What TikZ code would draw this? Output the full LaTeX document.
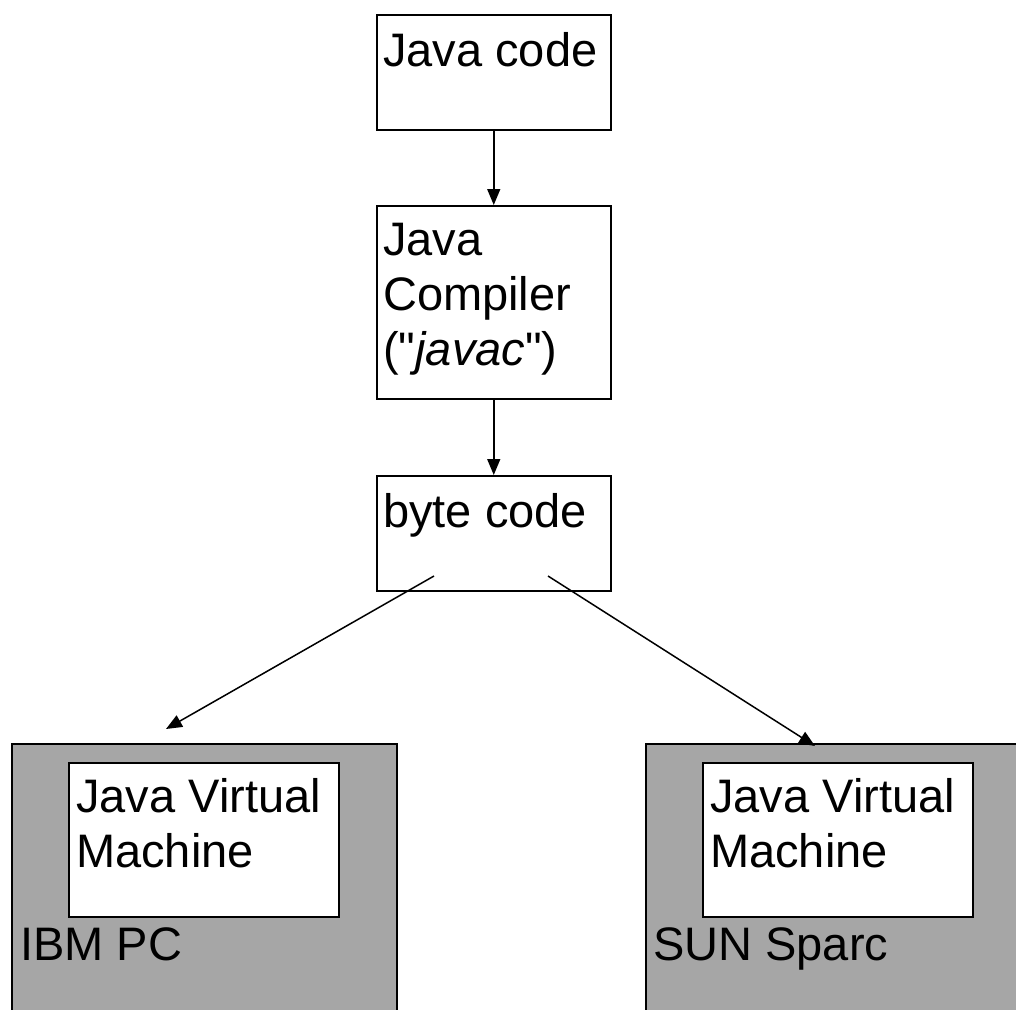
\documentclass[tikz,border=0pt]{standalone}
\usepackage{fontspec}
\setmainfont{Liberation Sans}
\usetikzlibrary{arrows.meta,positioning,calc}
\definecolor{pcgray}{RGB}{166,166,166}

\begin{document}
\begin{tikzpicture}[x=1pt,y=-1pt,
  box/.style={draw,line width=1.5pt,fill=white,inner sep=0pt,anchor=north west},
  machine/.style={box,fill=pcgray},
  txt/.style={anchor=north west,inner sep=0pt,align=left,font=\fontsize{47pt}{55pt}\selectfont},
  arr/.style={line width=1.5pt,-{Triangle[length=16pt,width=13pt]}}]
\clip (0,0) rectangle (1016,1009);
% compile chain
\node[box,minimum width=234pt,minimum height=115pt] (code) at (376,14) {};
\node[box,minimum width=234pt,minimum height=193pt] (javac) at (376,205) {};
\node[box,minimum width=234pt,minimum height=115pt] (bytes) at (376,475) {};
\node[txt] (codetxt) at (383,32) {Java code};
\node[txt] (javactxt) at (383,223) {Java\\Compiler\\(\textquotedbl\textit{javac}\textquotedbl)};
\node[txt] (bytestxt) at (383,493) {byte code};
% machines
\node[machine,minimum width=385pt,minimum height=280pt] (pc) at (11,743) {};
\node[machine,minimum width=385pt,minimum height=280pt] (sparc) at (645,743) {};
\node[box,minimum width=270pt,minimum height=154pt] (pcjvm) at (68,762) {};
\node[box,minimum width=270pt,minimum height=154pt] (sparcjvm) at (702,762) {};
\node[txt] (pcjvmtxt) at (76,778) {Java Virtual\\Machine};
\node[txt] (sparcjvmtxt) at (710,778) {Java Virtual\\Machine};
\node[txt] (pctxt) at (20,927) {IBM PC};
\node[txt] (sparctxt) at (653,927) {SUN Sparc};
% arrows
\coordinate (bl) at (434,576);
\coordinate (br) at (548,576);
\coordinate (pcin) at (166,729);
\coordinate (sparcin) at (815,746);
\draw[arr] (code.south) -- (javac.north);
\draw[arr] (javac.south) -- (bytes.north);
\draw[arr] (bl) -- (pcin);
\draw[arr] (br) -- (sparcin);
\end{tikzpicture}
\end{document}
